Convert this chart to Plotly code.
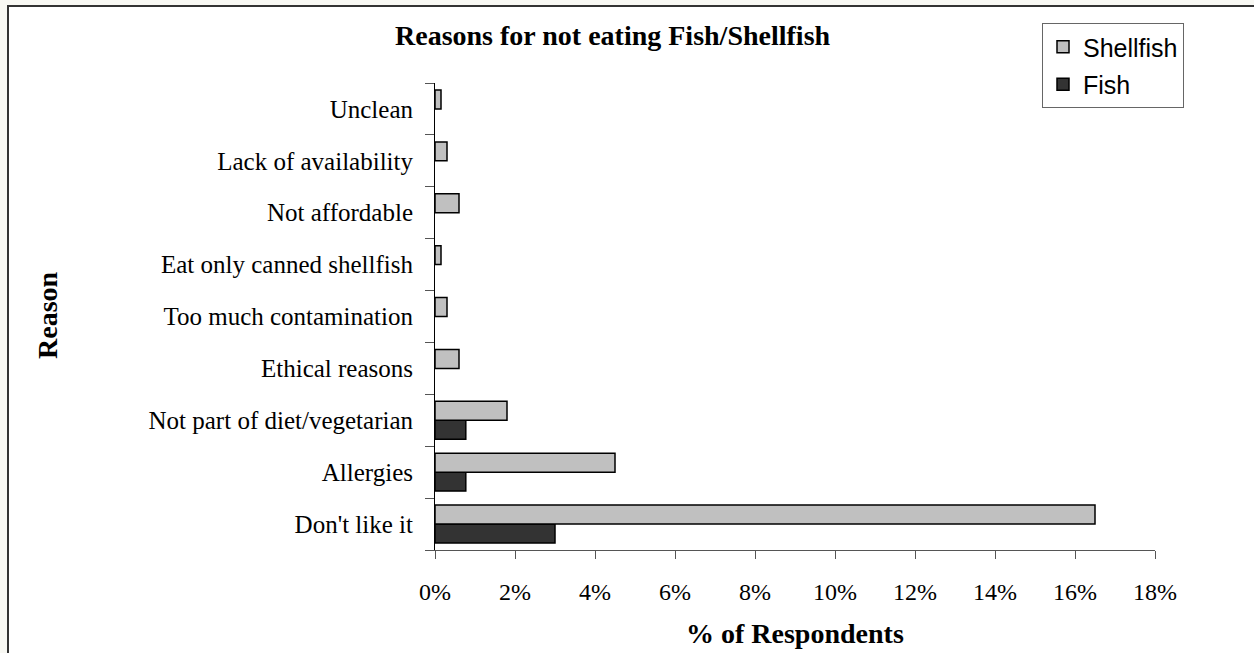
import plotly.graph_objects as go

# Reasons, listed bottom-to-top as they appear on the axis
reasons = [
    "Don't like it",
    "Allergies",
    "Not part of diet/vegetarian",
    "Ethical reasons",
    "Too much contamination",
    "Eat only canned shellfish",
    "Not affordable",
    "Lack of availability",
    "Unclean",
]
# % of respondents
shellfish = [16.5, 4.5, 1.8, 0.6, 0.3, 0.15, 0.6, 0.3, 0.15]
fish = [3.0, 0.77, 0.77, None, None, None, None, None, None]
x_ticks = [0, 2, 4, 6, 8, 10, 12, 14, 16, 18]

SERIF = "Liberation Serif, Times New Roman, serif"
SANS = "Liberation Sans, Arial, sans-serif"

# plot-area geometry in pixels (used to place border and labels)
W, H = 1254, 653
L, R, T, B = 435, 99, 83, 103
PW, PH = W - L - R, H - T - B


def px(x):
    return (x - L) / PW


def py(y):
    return (H - B - y) / PH


fig = go.Figure()
fig.add_trace(go.Bar(
    y=reasons, x=fish, orientation="h", name="Fish", legendgroup="fish",
    legendrank=2,
    marker=dict(color="#333333", line=dict(color="#000000", width=1.5)),
))
fig.add_trace(go.Bar(
    y=reasons, x=shellfish, orientation="h", name="Shellfish", legendgroup="shell",
    legendrank=1,
    marker=dict(color="#C0C0C0", line=dict(color="#000000", width=1.5)),
))

fig.update_layout(
    width=W, height=H,
    margin=dict(l=L, r=R, t=T, b=B),
    paper_bgcolor="#F8F8F3",
    plot_bgcolor="#FFFFFF",
    barmode="group",
    bargap=0.27,
    bargroupgap=0,
    showlegend=True,
    legend=dict(
        x=px(1042), y=py(23), xanchor="left", yanchor="top",
        traceorder="grouped", tracegroupgap=2,
        font=dict(family=SANS, size=25, color="#000000"),
        bgcolor="#FFFFFF", bordercolor="#666666", borderwidth=1,
    ),
    xaxis=dict(
        range=[0, 18], tickvals=x_ticks, ticktext=[f"{v}%" for v in x_ticks],
        showgrid=False, zeroline=False,
        showline=True, linecolor="#555555", linewidth=1,
        ticks="outside", ticklen=8, tickcolor="#555555",
        ticklabelstandoff=12,
        tickfont=dict(family=SERIF, size=24, color="#000000"),
    ),
    yaxis=dict(
        type="category", categoryorder="array", categoryarray=reasons,
        showgrid=False, zeroline=False,
        showline=True, linecolor="#000000", linewidth=1,
        ticks="outside", ticklen=9, tickcolor="#555555", tickson="boundaries",
        ticklabelstandoff=16,
        tickfont=dict(family=SERIF, size=25, color="#000000"),
    ),
    shapes=[
        dict(type="rect", xref="paper", yref="paper",
             x0=px(8), x1=px(1270), y0=py(670), y1=py(6),
             line=dict(color="#333333", width=2), fillcolor="#FFFFFF",
             layer="below"),
    ],
    annotations=[
        dict(text="<b>Reasons for not eating Fish/Shellfish</b>",
             xref="paper", yref="paper", x=px(613), y=py(36),
             xanchor="center", yanchor="middle", showarrow=False,
             font=dict(family=SERIF, size=28, color="#000000")),
        dict(text="<b>% of Respondents</b>",
             xref="paper", yref="paper", x=px(795), y=py(633),
             xanchor="center", yanchor="middle", showarrow=False,
             font=dict(family=SERIF, size=28, color="#000000")),
        dict(text="<b>Reason</b>", textangle=-90,
             xref="paper", yref="paper", x=px(47), y=py(315),
             xanchor="center", yanchor="middle", showarrow=False,
             font=dict(family=SERIF, size=28, color="#000000")),
    ],
)

fig.write_html("out.html")
